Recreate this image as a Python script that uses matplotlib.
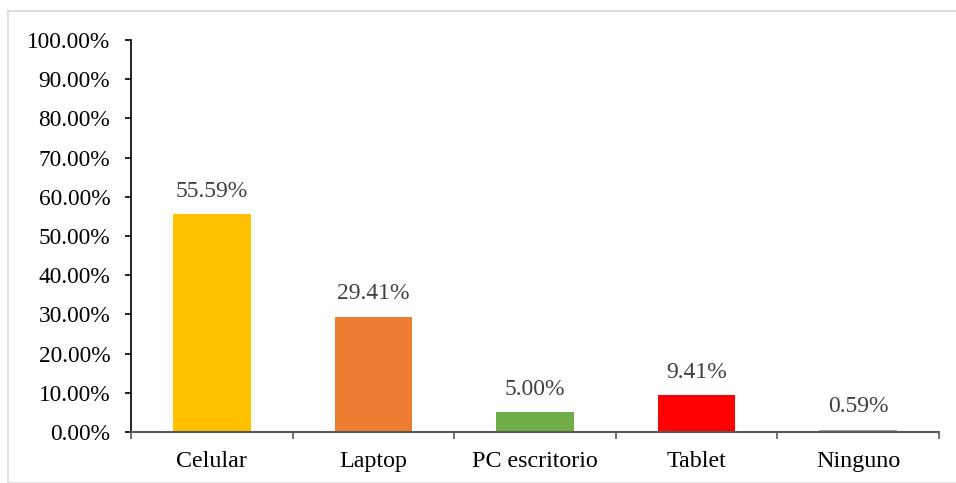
import matplotlib
matplotlib.use("Agg")
import matplotlib.pyplot as plt
from matplotlib.patches import Rectangle
from matplotlib.ticker import FuncFormatter, MultipleLocator

categories = ["Celular", "Laptop", "PC escritorio", "Tablet", "Ninguno"]
values = [55.59, 29.41, 5.00, 9.41, 0.59]
labels = ["55.59%", "29.41%", "5.00%", "9.41%", "0.59%"]
colors = ["#FFC000", "#ED7D31", "#70AD47", "#FF0000", "#A5A5A5"]

plt.rcParams['font.family'] = ['Liberation Serif', 'DejaVu Serif']

W, H = 956, 483
fig = plt.figure(figsize=(W / 100, H / 100), dpi=100)
fig.patches.append(Rectangle((8 / W, 0), 1.0, 1 - 11 / H, transform=fig.transFigure,
                             fill=False, edgecolor="#D9D9D9", linewidth=1.2))

ax = fig.add_axes([131 / W, 1 - 432 / H, (939 - 131) / W, (432 - 40) / H])
x = list(range(len(categories)))
ax.bar(x, values, width=0.48, color=colors, zorder=2)
for xi, v, lab in zip(x, values, labels):
    ax.annotate(lab, (xi, v), xytext=(0, 9), textcoords="offset points",
                ha="center", va="bottom", fontsize=17, color="#404040")

ax.set_xlim(-0.5, len(categories) - 0.5)
ax.set_ylim(0, 100)
ax.yaxis.set_major_locator(MultipleLocator(10))
ax.yaxis.set_major_formatter(FuncFormatter(lambda v, p: f"{v:.2f}%"))
ax.set_xticks(x)
ax.set_xticklabels(categories)
ax.set_xticks([i - 0.5 for i in range(len(categories) + 1)], minor=True)
ax.tick_params(axis="x", which="major", length=0, pad=14, labelsize=17.3, colors="black")
ax.tick_params(axis="x", which="minor", length=5, direction="out", color="#595959", width=1.2)
ax.tick_params(axis="y", length=4, direction="out", width=1.2, labelsize=16.8, pad=11)

for s in ["top", "right"]:
    ax.spines[s].set_visible(False)
ax.spines["left"].set_color("black")
ax.spines["left"].set_linewidth(1.2)
ax.spines["bottom"].set_color("#595959")
ax.spines["bottom"].set_linewidth(1.5)
ax.spines["bottom"].set_zorder(3)

fig.savefig("out.png", dpi=100)
